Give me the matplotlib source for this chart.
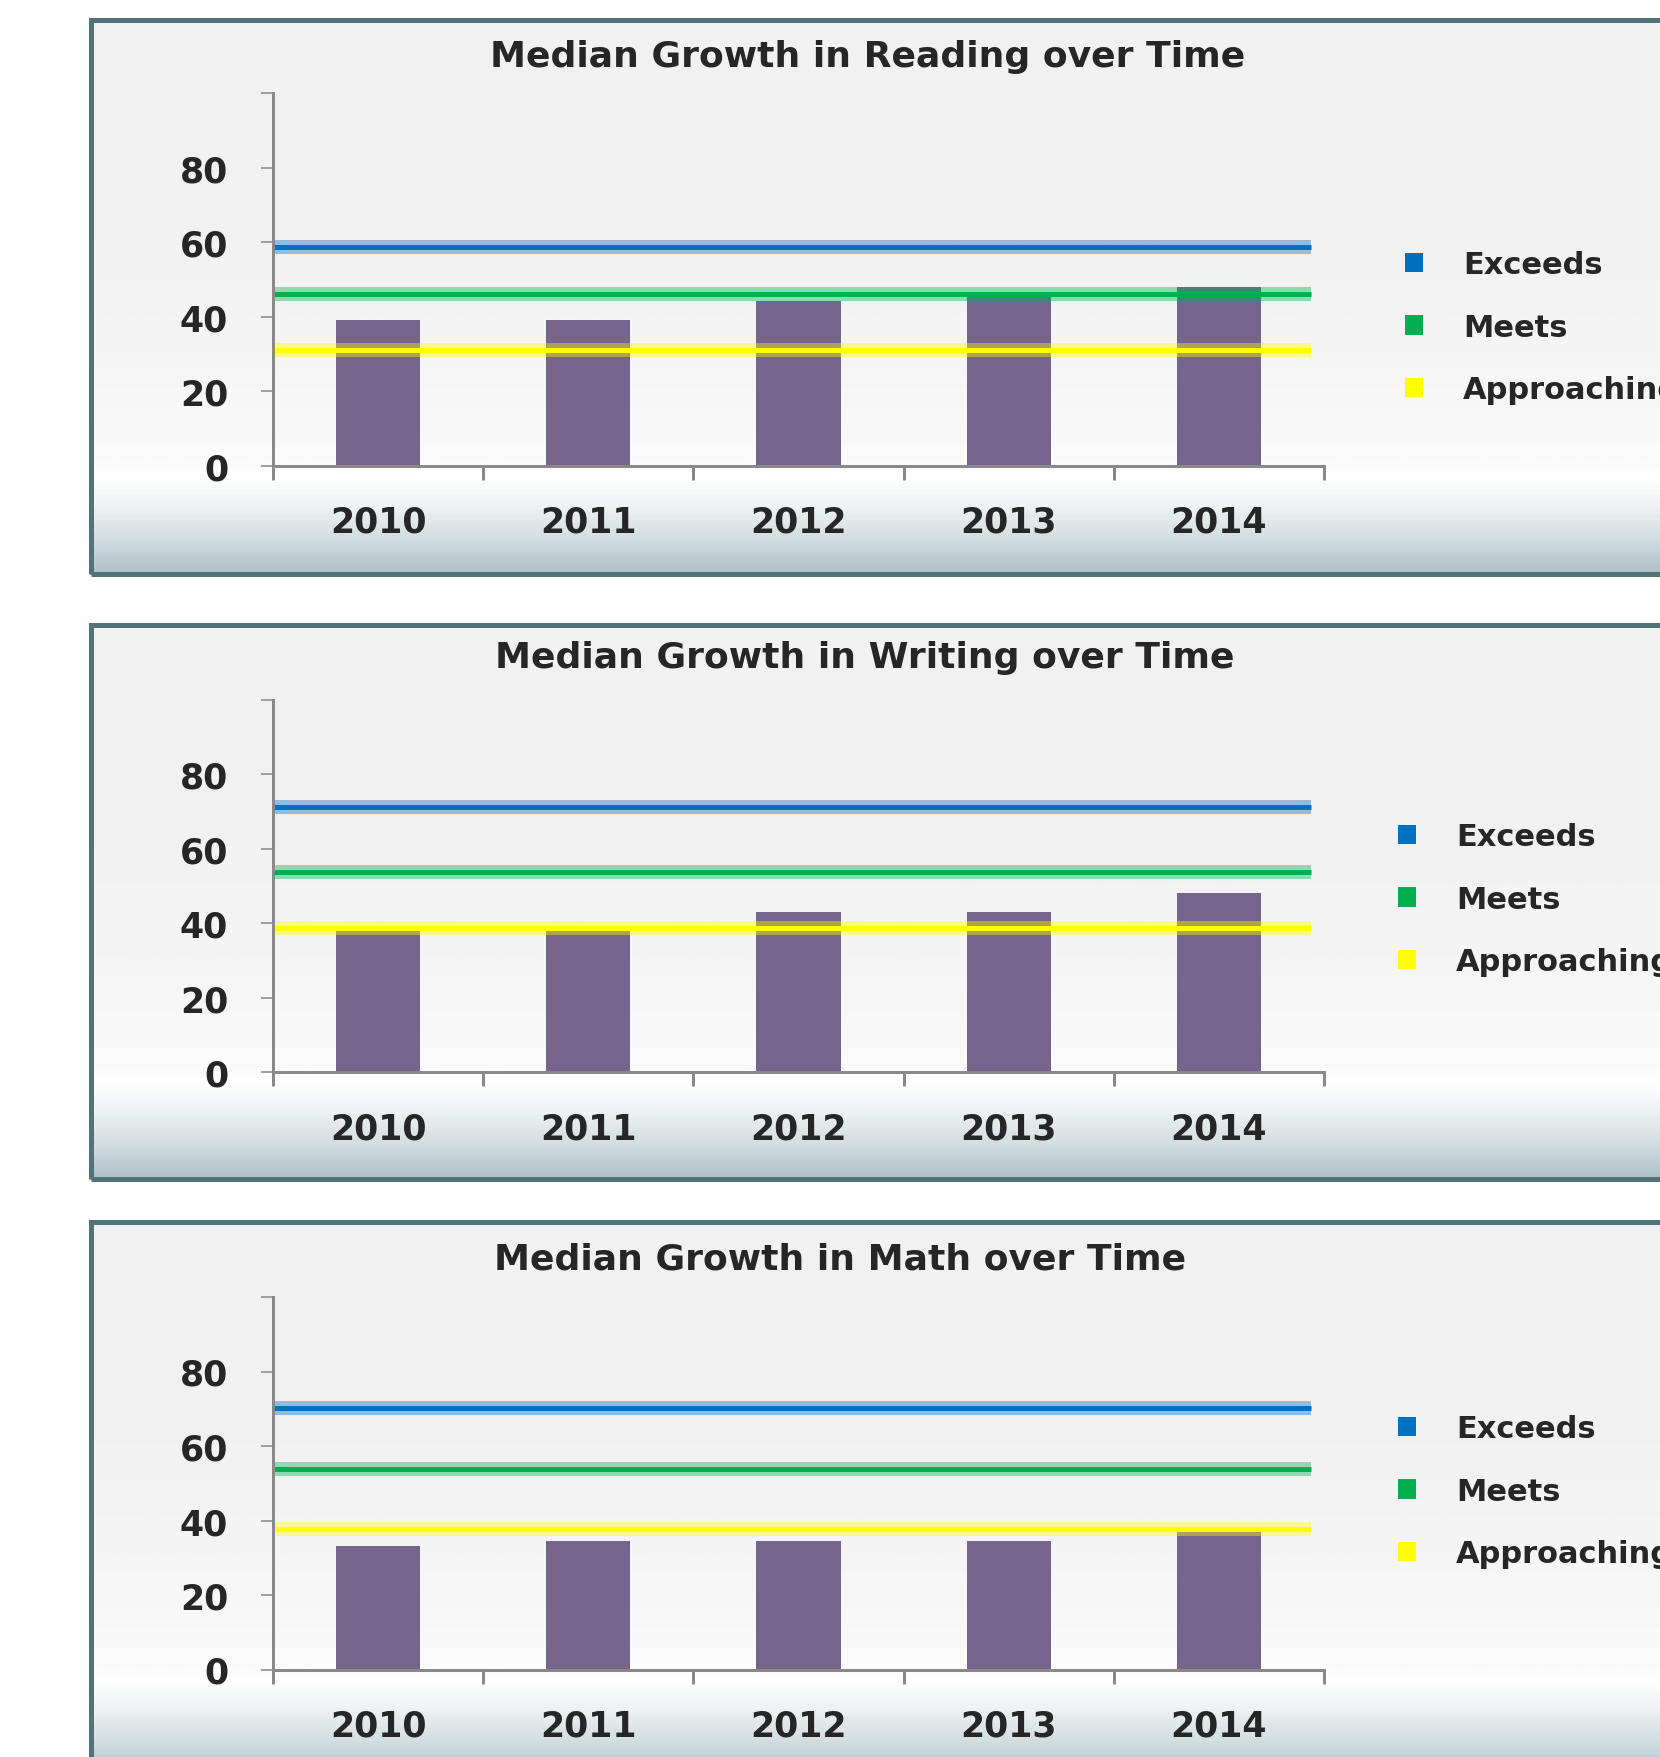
import numpy as np
import matplotlib.pyplot as plt
from matplotlib.colors import LinearSegmentedColormap
from matplotlib.patches import Rectangle

plt.rcParams['font.family'] = ['DejaVu Sans']

years = ['2010', '2011', '2012', '2013', '2014']
titles = ['Median Growth in Reading over Time',
          'Median Growth in Writing over Time',
          'Median Growth in Math over Time']
reading = [39.2, 39.2, 44.3, 45.5, 48.0]
writing = [38.5, 38.5, 43.1, 43.1, 48.2]
math = [33.1, 34.5, 34.5, 34.5, 36.9]
exceeds = [58.7, 71.3, 70.1]
meets = [46.2, 53.7, 53.9]
approaching = [31.2, 38.8, 37.6]
level_names = ['Exceeds', 'Meets', 'Approaching']
level_colors = ['#0070C0', '#00B050', '#FFFF00']
y_ticks = [0, 20, 40, 60, 80, 100]
y_tick_labels = ['0', '20', '40', '60', '80', '']

medians = [reading, writing, math]

W, H = 1660, 1758
fig = plt.figure(figsize=(W / 100, H / 100), dpi=100)
fig.patch.set_facecolor('white')


def rect(left, top, width, height):
    return [left / W, 1 - (top + height) / H, width / W, height / H]


bg_cmap = LinearSegmentedColormap.from_list('panel', [
    (0.0, '#f1f1f1'), (0.4, '#f2f2f2'), (0.6, '#f5f5f5'), (0.8, '#fbfbfb'),
    (0.83, '#ffffff'), (0.88, '#eef2f3'), (0.94, '#d3dde0'), (1.0, '#afc1c7')])
grad = np.linspace(0, 1, 400).reshape(-1, 1)

txt_col = '#262626'
axis_col = '#898989'
px = 0.72  # points per pixel at 100 dpi

panel_tops = [20.7, 626.3, 1222.5]
panel_h = 554
axis_zero = [466.9, 1073.4, 1670.5]
title_x = [868, 865, 840]
title_y = [57, 658, 1259]
legend_x = [1405, 1398, 1398]
legend_y = [251, 823, 1415]

for i in range(3):
    top = panel_tops[i]
    # panel background with gradient
    bg = fig.add_axes(rect(91, top, W, panel_h))
    bg.imshow(grad, cmap=bg_cmap, aspect='auto', extent=[0, 1, 0, 1])
    bg.set_axis_off()
    fig.patches.append(Rectangle((91 / W, 1 - (top + panel_h) / H), 1.0, panel_h / H,
                                 transform=fig.transFigure, fill=False,
                                 edgecolor='#53737A', lw=5 * px, zorder=5))

    y0 = axis_zero[i]
    ax = fig.add_axes(rect(273, y0 - 372.5, 1051, 372.5))
    ax.patch.set_alpha(0)
    ax.set_xlim(-0.5, 4.5)
    ax.set_ylim(0, 100)

    x = np.arange(len(years))
    ax.bar(x, medians[i], width=0.4, color='#76648C', zorder=2)

    for val, col in zip([exceeds[i], meets[i], approaching[i]], level_colors):
        ax.hlines(val, -0.5, 4.44, colors=col, lw=14 * px, alpha=0.4, zorder=3)
        ax.hlines(val, -0.5, 4.44, colors=col, lw=5 * px, zorder=4)

    for s in ['top', 'right']:
        ax.spines[s].set_visible(False)
    for s in ['left', 'bottom']:
        ax.spines[s].set_color(axis_col)
        ax.spines[s].set_linewidth(3 * px)
        ax.spines[s].set_zorder(6)

    ax.set_yticks(y_ticks, y_tick_labels)
    ax.tick_params(axis='y', length=12 * px, width=2 * px, color='#a0a0a0',
                   pad=33 * px, labelsize=25, labelcolor=txt_col)
    for lab in ax.get_yticklabels():
        lab.set_fontweight('bold')

    ax.set_xticks(x, years)
    ax.set_xticks(np.arange(-0.5, 5, 1), minor=True)
    ax.tick_params(axis='x', which='major', length=0, pad=39 * px,
                   labelsize=25, labelcolor=txt_col)
    ax.tick_params(axis='x', which='minor', length=14 * px, width=3 * px,
                   color=axis_col)
    for lab in ax.get_xticklabels():
        lab.set_fontweight('bold')

    fig.text(title_x[i] / W, 1 - title_y[i] / H, titles[i], ha='center', va='center',
             fontsize=26, fontweight='bold', color=txt_col)

    handles = [Rectangle((0, 0), 1, 1, facecolor=c, edgecolor='none') for c in level_colors]
    ax.legend(handles, level_names, loc='upper left',
              bbox_to_anchor=(legend_x[i] / W, 1 - legend_y[i] / H),
              bbox_transform=fig.transFigure, frameon=False,
              prop={'size': 22, 'weight': 'bold'}, labelcolor=txt_col,
              handlelength=0.6, handleheight=0.6, handletextpad=1.3,
              labelspacing=1.1, borderpad=0, borderaxespad=0)

fig.savefig('out.png', dpi=100)
